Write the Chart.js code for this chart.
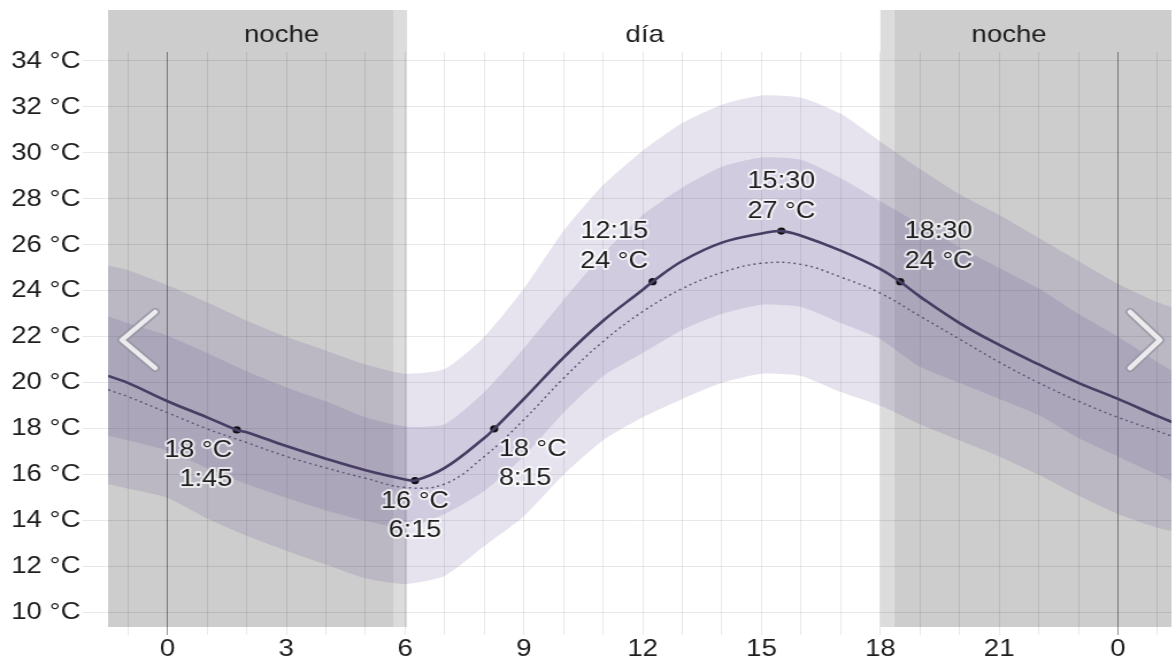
<!DOCTYPE html>
<html lang="es">
<head>
<meta charset="utf-8">
<script src="https://cdn.jsdelivr.net/npm/chart.js@4.4.1/dist/chart.umd.min.js"></script>
<style>
    html, body { margin: 0; padding: 0; background: #fff; overflow: hidden; }
    #contenedor {
        position: relative;
        width: 1023px;
        height: 659px;
        transform: scaleX(1.1496);
        transform-origin: 0 0;
    }
</style>
</head>
<body>
<div id="contenedor"><canvas id="grafico"></canvas></div>
<script>
// -----------------------------
// DATOS
// -----------------------------
const horas = [-1.5, -1, 0, 1, 2, 3, 4, 5, 6, 7, 8, 9, 10, 11, 12, 13, 14, 15, 16, 17, 18, 19, 20, 21, 22, 23, 24, 25, 25.5];

const tempMedia = [20.3, 20.0, 19.2, 18.5, 17.85, 17.25, 16.7, 16.2, 15.8, 16.3, 17.6, 19.3, 21.1, 22.7, 24.05, 25.3, 26.1, 26.5, 26.4, 25.75, 24.95, 23.75, 22.6, 21.65, 20.8, 20.0, 19.3, 18.55, 18.2];
const tempPunteada = [19.7, 19.4, 18.7, 18.0, 17.4, 16.8, 16.3, 15.85, 15.45, 15.6, 16.8, 18.4, 20.2, 21.8, 23.1, 24.1, 24.8, 25.2, 25.15, 24.6, 23.9, 22.9, 21.9, 20.9, 20.0, 19.2, 18.5, 17.9, 17.6];

const interiorSup = [22.9, 22.6, 22.05, 21.3, 20.5, 19.8, 19.2, 18.5, 18.1, 18.2, 19.6, 21.5, 23.6, 25.6, 27.3, 28.5, 29.4, 29.8, 29.7, 28.9, 27.9, 26.9, 25.9, 25.0, 24.1, 23.0, 22.0, 20.9, 20.4];
const interiorInf = [17.7, 17.5, 17.05, 16.3, 15.6, 15.0, 14.45, 14.0, 13.7, 14.3, 15.3, 16.8, 18.7, 20.3, 21.3, 22.3, 23.0, 23.4, 23.3, 22.6, 21.9, 20.7, 20.0, 19.3, 18.6, 17.6, 16.8, 16.0, 15.6];

const exteriorSup = [25.1, 24.9, 24.25, 23.5, 22.7, 22.0, 21.4, 20.8, 20.4, 20.6, 22.0, 24.1, 26.6, 28.6, 30.1, 31.3, 32.1, 32.5, 32.4, 31.7, 30.5, 29.3, 28.2, 27.3, 26.3, 25.3, 24.3, 23.5, 23.2];
const exteriorInf = [15.6, 15.4, 15.0, 14.1, 13.35, 12.7, 12.1, 11.5, 11.25, 11.6, 12.9, 14.2, 16.0, 17.5, 18.5, 19.3, 20.0, 20.4, 20.3, 19.6, 19.0, 18.2, 17.5, 16.8, 16.0, 15.1, 14.3, 13.7, 13.5];

// puntos destacados sobre la curva
const horasMarcas = [1.75, 6.25, 8.25, 12.25, 15.5, 18.5];
const tempMarcas = [17.95, 15.75, 18.0, 24.4, 26.6, 24.4];

// ejes
const ticksY = [10, 12, 14, 16, 18, 20, 22, 24, 26, 28, 30, 32, 34];
const ticksX = [-1, 0, 1, 2, 3, 4, 5, 6, 7, 8, 9, 10, 11, 12, 13, 14, 15, 16, 17, 18, 19, 20, 21, 22, 23, 24, 25];

// noche / crepúsculo / día
const noches = [[-1.5, 5.72], [18.35, 25.35]];
const crepusculos = [[5.72, 6.05], [18.0, 18.35]];
const franjas = ["noche", "día", "noche"];
const centrosFranjas = [2.88, 12.05, 21.25];

// -----------------------------
// UTILIDADES
// -----------------------------
const FUENTE = "'Liberation Sans', Arial, sans-serif";

function puntos(xs, ys) {
    return xs.map((x, i) => ({ x, y: ys[i] }));
}

function lineaMedia() {
    const todos = puntos(horas, tempMedia).concat(puntos(horasMarcas, tempMarcas));
    todos.sort((a, b) => a.x - b.x);
    return todos;
}

function formatoHora(h) {
    const hh = Math.floor(h);
    const mm = Math.round((h - hh) * 60);
    return hh + ":" + String(mm).padStart(2, "0");
}

// posición de la etiqueta de cada marca: vertical y alineación
const posEtiquetas = [
    { v: "abajo", h: "izq" },
    { v: "abajo", h: "centro" },
    { v: "abajo", h: "der" },
    { v: "arriba", h: "izq" },
    { v: "arriba", h: "centro" },
    { v: "arriba", h: "der" }
];

// -----------------------------
// PLUGINS
// -----------------------------
const fondoNoche = {
    id: "fondoNoche",
    beforeDraw(chart) {
        const { ctx, chartArea, scales } = chart;
        const x = scales.x;
        const arriba = 10;
        ctx.save();
        ctx.fillStyle = "#cdcdcd";
        for (const [a, b] of noches) {
            const x1 = Math.max(x.getPixelForValue(a), chartArea.left);
            const x2 = Math.min(x.getPixelForValue(b), chartArea.right);
            ctx.fillRect(x1, arriba, x2 - x1, chartArea.bottom - arriba);
        }
        ctx.fillStyle = "#dcdcdc";
        for (const [a, b] of crepusculos) {
            const x1 = x.getPixelForValue(a);
            const x2 = x.getPixelForValue(b);
            ctx.fillRect(x1, arriba, x2 - x1, chartArea.bottom - arriba);
        }

        ctx.fillStyle = "#1e1e1e";
        ctx.font = "24px " + FUENTE;
        ctx.textAlign = "center";
        ctx.textBaseline = "middle";
        franjas.forEach((t, i) => {
            ctx.fillText(t, x.getPixelForValue(centrosFranjas[i]), 35);
        });
        ctx.restore();
    }
};

const etiquetasMarcas = {
    id: "etiquetasMarcas",
    afterDatasetsDraw(chart) {
        const { ctx } = chart;
        const meta = chart.getDatasetMeta(6);
        ctx.save();
        ctx.font = "23.5px " + FUENTE;
        ctx.textBaseline = "middle";
        ctx.lineJoin = "round";
        meta.data.forEach((p, i) => {
            const pos = posEtiquetas[i];
            const temp = Math.round(tempMarcas[i]) + " °C";
            const hora = formatoHora(horasMarcas[i]);
            const lineas = pos.v === "abajo" ? [temp, hora] : [hora, temp];
            const ys = pos.v === "abajo" ? [p.y + 21, p.y + 50] : [p.y - 50, p.y - 20];
            let x = p.x;
            if (pos.h === "izq") { ctx.textAlign = "right"; x = p.x - 4; }
            else if (pos.h === "der") { ctx.textAlign = "left"; x = p.x + 4; }
            else { ctx.textAlign = "center"; }
            lineas.forEach((t, k) => {
                ctx.strokeStyle = "rgba(255,255,255,0.7)";
                ctx.lineWidth = 4;
                ctx.strokeText(t, x, ys[k]);
                ctx.fillStyle = "#1e1e1e";
                ctx.fillText(t, x, ys[k]);
            });
        });
        ctx.restore();
    }
};

const flechas = {
    id: "flechas",
    afterDraw(chart) {
        const { ctx, chartArea } = chart;
        const cy = 340;
        const dibujar = (xPunta, xBrazo) => {
            ctx.beginPath();
            ctx.moveTo(xBrazo, cy - 28);
            ctx.lineTo(xPunta, cy);
            ctx.lineTo(xBrazo, cy + 28);
            ctx.lineCap = "round";
            ctx.lineJoin = "round";
            ctx.strokeStyle = "rgba(150,148,160,0.75)";
            ctx.lineWidth = 8;
            ctx.stroke();
            ctx.strokeStyle = "rgba(240,240,242,0.95)";
            ctx.lineWidth = 4.5;
            ctx.stroke();
        };
        ctx.save();
        dibujar(chartArea.left + 12, chartArea.left + 41);
        dibujar(chartArea.right - 10, chartArea.right - 36);
        ctx.restore();
    }
};

// -----------------------------
// GRÁFICO
// -----------------------------
const bandaColor = "rgba(90, 70, 140, 0.15)";

new Chart(document.getElementById("grafico"), {
    type: "line",
    data: {
        datasets: [
            { data: puntos(horas, exteriorSup), fill: 1, backgroundColor: bandaColor, borderWidth: 0, pointRadius: 0, tension: 0.2 },
            { data: puntos(horas, exteriorInf), fill: false, borderWidth: 0, pointRadius: 0, tension: 0.2 },
            { data: puntos(horas, interiorSup), fill: 3, backgroundColor: bandaColor, borderWidth: 0, pointRadius: 0, tension: 0.2 },
            { data: puntos(horas, interiorInf), fill: false, borderWidth: 0, pointRadius: 0, tension: 0.2 },
            {
                data: puntos(horas, tempPunteada), fill: false,
                borderColor: "#5d5374", borderWidth: 1.4, borderDash: [2, 3],
                pointRadius: 0, tension: 0.4
            },
            {
                data: lineaMedia(), fill: false,
                borderColor: "#483d62", borderWidth: 2.6,
                pointRadius: 0, tension: 0.4
            },
            {
                data: puntos(horasMarcas, tempMarcas), showLine: false,
                pointRadius: 3.6, pointBackgroundColor: "#111", pointBorderWidth: 0
            }
        ]
    },
    options: {
        responsive: true,
        maintainAspectRatio: false,
        animation: false,
        layout: { padding: { top: 52, right: 0, left: 0, bottom: 0 } },
        plugins: {
            legend: { display: false },
            tooltip: { enabled: false },
            filler: { drawTime: "beforeDatasetsDraw" }
        },
        scales: {
            x: {
                type: "linear",
                min: -1.5,
                max: 25.35,
                afterBuildTicks: (s) => { s.ticks = ticksX.map(v => ({ value: v })); },
                afterFit: (s) => { s.height = 32; },
                border: { display: false },
                grid: {
                    tickLength: 8,
                    color: (c) => (c.tick && c.tick.value % 24 === 0) ? "rgba(0,0,0,0.42)" : "rgba(0,0,0,0.09)"
                },
                ticks: {
                    autoSkip: false,
                    maxRotation: 0,
                    padding: 0,
                    color: "#1e1e1e",
                    font: { family: FUENTE, size: 24 },
                    callback: (v) => (v % 3 === 0) ? String(((v % 24) + 24) % 24) : ""
                }
            },
            y: {
                min: 9.38,
                max: 34.39,
                afterBuildTicks: (s) => { s.ticks = ticksY.map(v => ({ value: v })); },
                afterFit: (s) => { s.width = 94; },
                border: { display: false },
                grid: { tickLength: 22, color: "rgba(0,0,0,0.09)" },
                ticks: {
                    padding: 2,
                    color: "#1e1e1e",
                    font: { family: FUENTE, size: 24 },
                    callback: (v) => v + " °C"
                }
            }
        }
    },
    plugins: [fondoNoche, etiquetasMarcas, flechas]
});
</script>
</body>
</html>
